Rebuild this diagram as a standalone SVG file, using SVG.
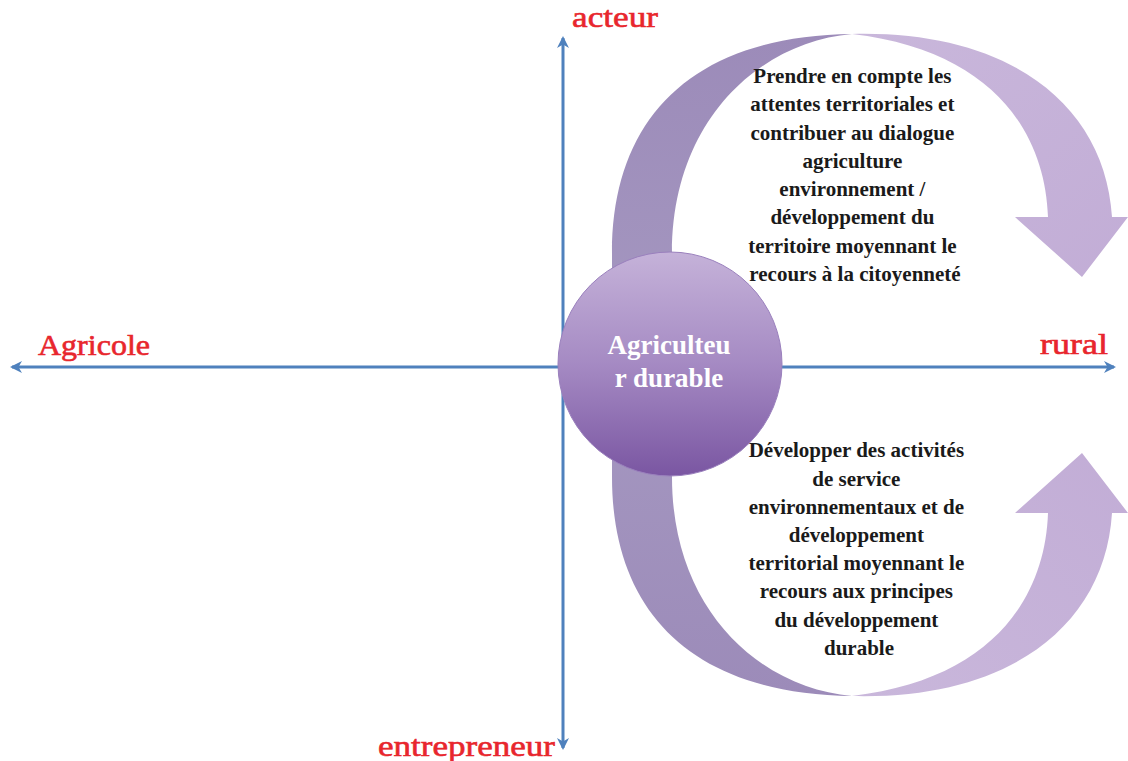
<svg xmlns="http://www.w3.org/2000/svg" width="1128" height="761" viewBox="0 0 1128 761">
  <defs>
    <linearGradient id="darkBand" x1="0" y1="0" x2="0" y2="1">
      <stop offset="0" stop-color="#9c8bb9"/>
      <stop offset="1" stop-color="#a395bf"/>
    </linearGradient>
    <linearGradient id="lightBand" x1="0" y1="0" x2="1" y2="1">
      <stop offset="0" stop-color="#c9b7db"/>
      <stop offset="1" stop-color="#c2add6"/>
    </linearGradient>
    <linearGradient id="hub" x1="0" y1="0" x2="0" y2="1">
      <stop offset="0" stop-color="#c5b2d9"/>
      <stop offset="0.5" stop-color="#a58ac3"/>
      <stop offset="1" stop-color="#7a56a2"/>
    </linearGradient>
    <marker id="axisHead" viewBox="0 0 12 12" refX="10" refY="6" markerWidth="12" markerHeight="12" markerUnits="userSpaceOnUse" orient="auto-start-reverse">
      <path d="M0,0 L12,6 L0,12 L3.5,6 Z" fill="#4f81bd"/>
    </marker>
    <!-- one half-ring: dark lead-in and light arrow half -->
    <g id="loop">
      <path d="M612,290 L612,253 C612,120 690,36 852,34 C760,42 672,120 672,253 L672,290 Z" fill="url(#darkBand)"/>
      <path d="M852,34 C1010,30 1105,105 1112,217 L1128,217 L1082,277 L1015,217 L1048,217 C1045,130 990,50 852,34 Z" fill="url(#lightBand)"/>
    </g>
  </defs>
  <style>
    .axis { stroke: #4f81bd; stroke-width: 3; fill: none; }
    .pole { font-family: "Liberation Serif", serif; font-size: 30px; fill: #e8262d; stroke: #e8262d; stroke-width: 0.6; }
    .body { font-family: "Liberation Serif", serif; font-size: 21px; font-weight: bold; fill: #1a1a1a; text-anchor: middle; }
    .hubText { font-family: "Liberation Serif", serif; font-size: 27px; font-weight: bold; fill: #ffffff; text-anchor: middle; }
  </style>

  <!-- axes -->
  <g id="connectors">
    <line class="axis" x1="563" y1="38" x2="563" y2="748" marker-start="url(#axisHead)" marker-end="url(#axisHead)"/>
    <line class="axis" x1="12" y1="367" x2="1114" y2="367" marker-start="url(#axisHead)" marker-end="url(#axisHead)"/>
  </g>

  <!-- axis labels -->
  <g id="labels">
    <text class="pole" x="572" y="27" textLength="86" lengthAdjust="spacingAndGlyphs">acteur</text>
    <text class="pole" x="38" y="355" textLength="112" lengthAdjust="spacingAndGlyphs">Agricole</text>
    <text class="pole" x="1040" y="354" textLength="68" lengthAdjust="spacingAndGlyphs">rural</text>
    <text class="pole" x="378" y="756" textLength="177" lengthAdjust="spacingAndGlyphs">entrepreneur</text>
  </g>

  <!-- upper cycle -->
  <g id="cycle-top">
    <use href="#loop"/>
    <text class="body">
      <tspan x="855" y="83">Prendre en compte les</tspan>
      <tspan x="855" y="111">attentes territoriales et</tspan>
      <tspan x="855" y="140">contribuer au dialogue</tspan>
      <tspan x="855" y="168">agriculture</tspan>
      <tspan x="855" y="196">environnement /</tspan>
      <tspan x="855" y="224">développement du</tspan>
      <tspan x="855" y="253">territoire moyennant le</tspan>
      <tspan x="855" y="281">recours à la citoyenneté</tspan>
    </text>
  </g>

  <!-- lower cycle -->
  <g id="cycle-bottom">
    <use href="#loop" transform="translate(0,730) scale(1,-1)"/>
    <text class="body">
      <tspan x="859" y="457">Développer des activités</tspan>
      <tspan x="859" y="486">de service</tspan>
      <tspan x="859" y="514">environnementaux et de</tspan>
      <tspan x="859" y="542">développement</tspan>
      <tspan x="859" y="570">territorial moyennant le</tspan>
      <tspan x="859" y="598">recours aux principes</tspan>
      <tspan x="859" y="627">du développement</tspan>
      <tspan x="859" y="655">durable</tspan>
    </text>
  </g>

  <!-- central node -->
  <g id="hub">
    <circle cx="670" cy="364" r="112" fill="url(#hub)" stroke="#9a80bd" stroke-width="1"/>
    <text class="hubText" x="669" y="354">Agriculteu</text>
    <text class="hubText" x="669" y="387">r durable</text>
  </g>
</svg>
